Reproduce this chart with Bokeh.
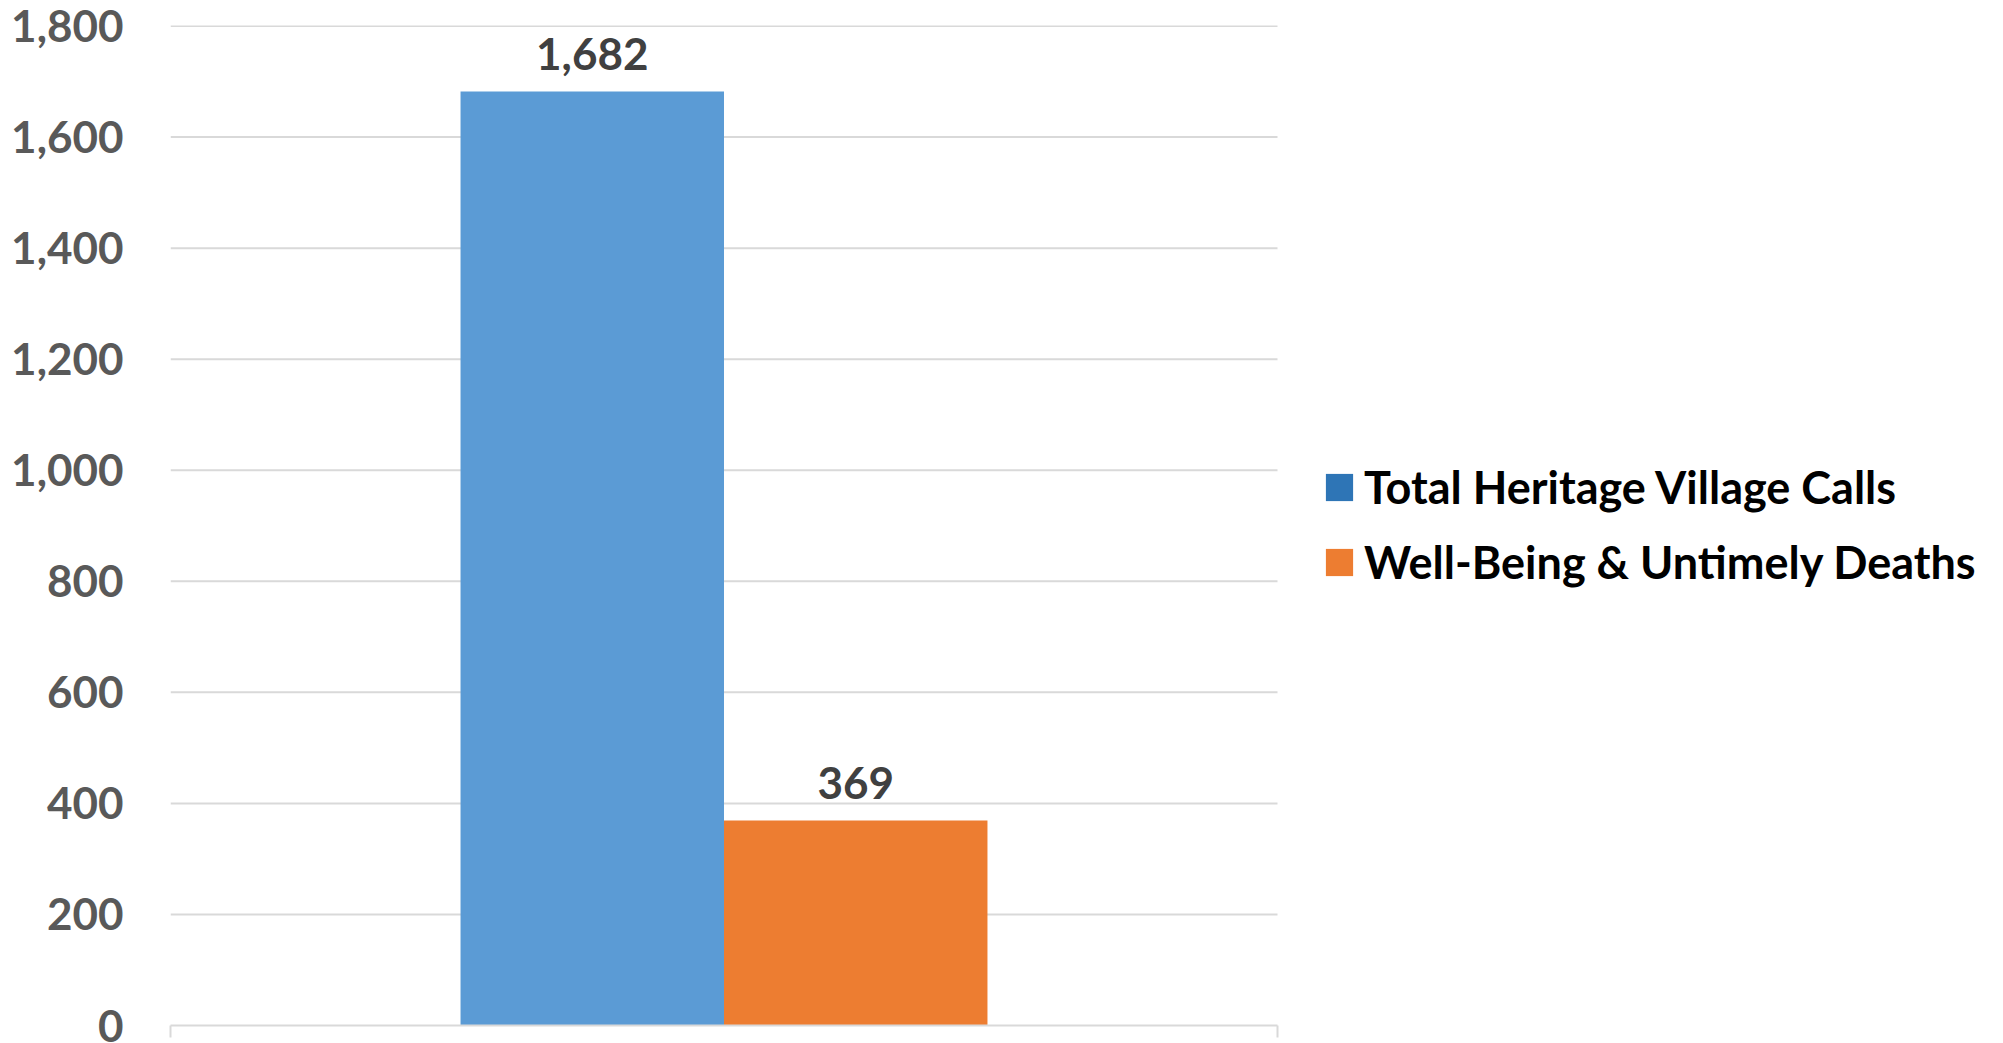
from bokeh.plotting import figure
from bokeh.models import (ColumnDataSource, Range1d, FixedTicker, CustomLabelingPolicy,
                          Legend, LegendItem, NumeralTickFormatter)
from bokeh.transform import dodge
from bokeh.core.properties import value
from bokeh.embed import file_html
from bokeh.resources import INLINE

categories = ["Calls"]
series_names = ["Total Heritage Village Calls", "Well-Being & Untimely Deaths"]
series_values = [1682, 369]
value_labels = ["1,682", "369"]
bar_colors = ["#5B9BD5", "#ED7D31"]
legend_colors = ["#2E75B6", "#ED7D31"]
y_ticks = [0, 200, 400, 600, 800, 1000, 1200, 1400, 1600, 1800]

FONT = "Lato"
FSIZE = "44px"
BAR_W = 0.238
offsets = [-BAR_W / 2, BAR_W / 2]
n_cat = len(categories)
cat_centers = [i + 0.5 for i in range(n_cat)]
cat_edges = list(range(n_cat + 1))

W, H = 1995, 1043
LEFT, TOP, FH = 170, 25, 1000
CHART_W = 1107                 # width of the category area in pixels
FRAME_W = W - LEFT             # frame also hosts the legend on the right
x_end = n_cat * FRAME_W / CHART_W

p = figure(x_range=Range1d(0, x_end), y_range=Range1d(0, y_ticks[-1] + 1),
           width=W, height=H,
           output_backend="svg", toolbar_location=None,
           min_border_left=LEFT, min_border_top=TOP,
           min_border_bottom=H - TOP - FH, min_border_right=0)
p.outline_line_color = None
p.background_fill_color = "white"
p.border_fill_color = "white"
p.xgrid.grid_line_color = None
p.ygrid.grid_line_color = None

# horizontal gridlines limited to the category area
grid_src = ColumnDataSource(dict(y=y_ticks[1:], x0=[0] * (len(y_ticks) - 1),
                                 x1=[n_cat] * (len(y_ticks) - 1)))
p.segment(x0="x0", x1="x1", y0="y", y1="y", source=grid_src,
          line_color="#D9D9D9", line_width=2)

xa = p.xaxis[0]
xa.bounds = (0, n_cat)
xa.ticker = FixedTicker(ticks=cat_edges)
xa.axis_line_color = "#D9D9D9"
xa.axis_line_width = 2
xa.major_tick_line_color = "#D9D9D9"
xa.major_tick_line_width = 2
xa.major_tick_out = 12
xa.major_tick_in = 0
xa.minor_tick_line_color = None
xa.major_label_text_font_size = "4px"
xa.major_label_standoff = 0
xa.major_label_policy = CustomLabelingPolicy(code="return new Set()")

p.yaxis.ticker = FixedTicker(ticks=y_ticks)
p.yaxis.formatter = NumeralTickFormatter(format="0,0")
p.yaxis.axis_line_color = None
p.yaxis.major_tick_line_color = None
p.yaxis.minor_tick_line_color = None
p.yaxis.major_tick_out = 0
p.yaxis.major_label_standoff = 47
p.yaxis.major_label_text_font = FONT
p.yaxis.major_label_text_font_style = "bold"
p.yaxis.major_label_text_font_size = FSIZE
p.yaxis.major_label_text_color = "#595959"

items = []
for i in range(len(series_values)):
    src = ColumnDataSource(dict(xc=cat_centers, v=[series_values[i]], lab=[value_labels[i]]))
    p.vbar(x=dodge("xc", offsets[i]), top="v", bottom=0, width=BAR_W,
           source=src, fill_color=bar_colors[i], line_color=None)
    p.text(x=dodge("xc", offsets[i]), y="v", text="lab", source=src,
           text_align="center", text_baseline="alphabetic", y_offset=-38,
           text_font=value(FONT), text_font_style="bold", text_font_size=FSIZE,
           text_color="#404040")
    # zero-width proxy so the legend swatch can use its own colour
    proxy = p.vbar(x=dodge("xc", offsets[i]), top="v", bottom=0, width=0, source=src,
                   fill_color=legend_colors[i], line_color=None)
    items.append(LegendItem(label=series_names[i], renderers=[proxy]))

legend = Legend(items=items, location=(1152, 436), orientation="vertical",
                glyph_width=34, glyph_height=34, label_standoff=8, spacing=21,
                padding=10, margin=0, border_line_color=None, background_fill_alpha=0,
                label_text_font=FONT, label_text_font_style="bold",
                label_text_font_size="45px", label_text_color="#000000")
p.add_layout(legend, "center")

open("out.html", "w").write(file_html(p, INLINE))
